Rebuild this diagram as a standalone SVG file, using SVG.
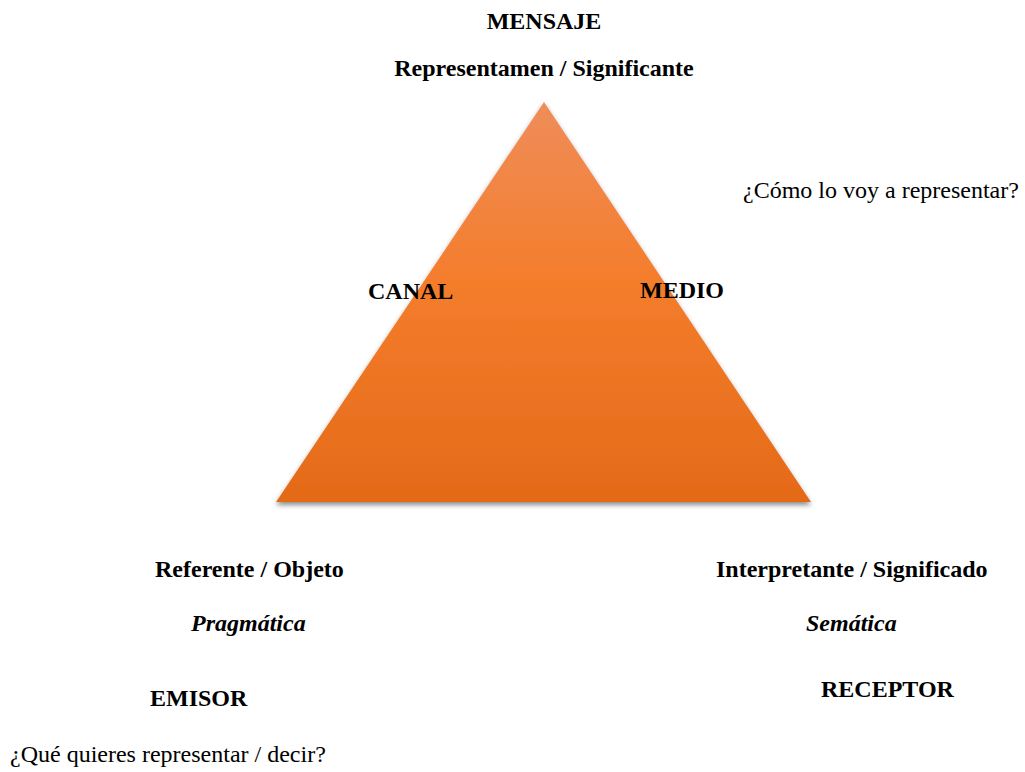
<svg xmlns="http://www.w3.org/2000/svg" width="1025" height="772" viewBox="0 0 1025 772">
<style>
.t{font-family:"Liberation Serif","Times New Roman",serif;font-size:24px;fill:#000}
.b{font-weight:bold}
.i{font-style:italic}
</style>
<defs>
<linearGradient id="og" x1="0" y1="0" x2="0" y2="1">
<stop offset="0" stop-color="#EF8D5A"/>
<stop offset="0.45" stop-color="#F47D2C"/>
<stop offset="1" stop-color="#E46A18"/>
</linearGradient>
<filter id="sh" x="-10%" y="-10%" width="120%" height="125%">
<feDropShadow dx="0" dy="3" stdDeviation="2.5" flood-color="#000" flood-opacity="0.45"/>
</filter>
</defs>
<rect width="1025" height="772" fill="#fff"/>
<g id="triangle">
<polygon points="544,102 276,502 811,502" fill="url(#og)" filter="url(#sh)"/>
</g>
<g id="connectors"></g>
<g id="mensaje">
<text class="t b" x="544" y="29" text-anchor="middle">MENSAJE</text>
<text class="t b" x="544" y="76" text-anchor="middle">Representamen / Significante</text>
</g>
<g id="pregunta-como">
<text class="t" x="743" y="198">¿Cómo lo voy a representar?</text>
</g>
<g id="canal"><text class="t b" x="368" y="299">CANAL</text></g>
<g id="medio"><text class="t b" x="640" y="298">MEDIO</text></g>
<g id="emisor">
<text class="t b" x="155" y="577">Referente / Objeto</text>
<text class="t b i" x="191" y="631">Pragmática</text>
<text class="t b" x="150" y="706">EMISOR</text>
</g>
<g id="receptor">
<text class="t b" x="716" y="577">Interpretante / Significado</text>
<text class="t b i" x="806" y="631">Semática</text>
<text class="t b" x="821" y="697">RECEPTOR</text>
</g>
<g id="pregunta-que">
<text class="t" x="10" y="762">¿Qué quieres representar / decir?</text>
</g>
</svg>
